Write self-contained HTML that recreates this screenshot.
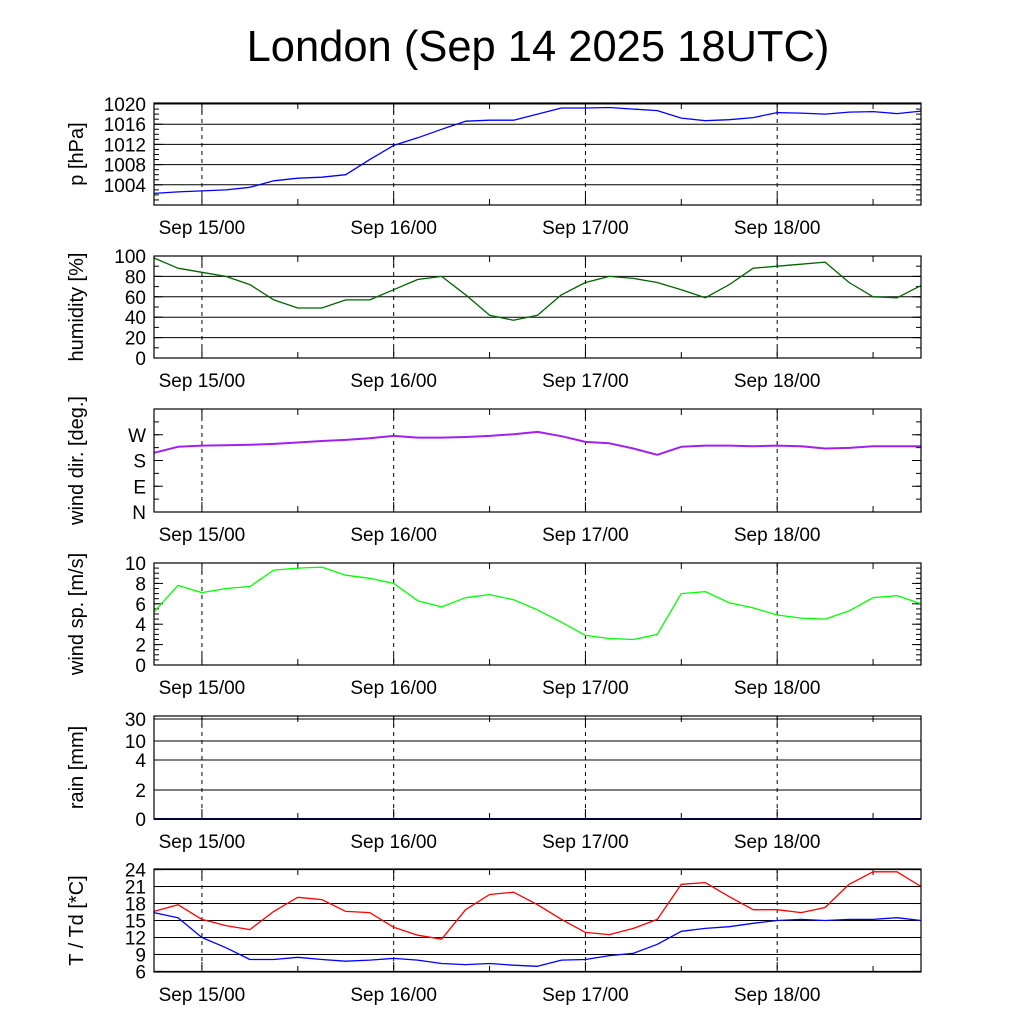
<!DOCTYPE html>
<html><head><meta charset="utf-8"><style>
body{margin:0;background:#fff}
svg{display:block;font-family:"Liberation Sans",sans-serif}
</style></head><body>
<svg id="c" width="1024" height="1024" viewBox="0 0 1024 1024">
<text x="538" y="61" font-size="43.5" text-anchor="middle">London (Sep 14 2025 18UTC)</text>
</svg>
<script>
// hours since Sep 14 18UTC, 3-hourly
const hours = Array.from({length:33},(_, i)=>i*3);
const dayLabels = ["Sep 15/00","Sep 16/00","Sep 17/00","Sep 18/00"];
const dayHours = [6,30,54,78];
const pressure = [1002.3,1002.6,1002.8,1003.0,1003.5,1004.8,1005.3,1005.5,1006.0,1009.0,1011.8,1013.3,1015.0,1016.6,1016.8,1016.8,1018.0,1019.2,1019.2,1019.3,1019.0,1018.7,1017.2,1016.7,1016.9,1017.3,1018.3,1018.2,1018.0,1018.4,1018.5,1018.1,1018.6];
const humidity = [98,88,84,80,72,57,49,49,57,57,67,77,80,62,42,37,42,62,74,80,78,74,67,59,72,88,90,92,94,74,60,59,71];
const windDir = [207,228,232,233,235,238,243,248,252,258,266,260,260,262,266,272,280,265,245,240,222,200,228,232,232,230,232,230,222,224,230,230,230];
const windSpeed = [5.2,7.8,7.1,7.5,7.7,9.3,9.5,9.6,8.8,8.5,8.0,6.3,5.7,6.6,6.9,6.4,5.4,4.2,2.9,2.6,2.5,3.0,7.0,7.2,6.1,5.6,4.9,4.6,4.5,5.3,6.6,6.8,6.0];
const rain = hours.map(()=>0);
const temp = [16.6,17.8,15.2,14.1,13.4,16.6,19.1,18.7,16.6,16.4,13.8,12.4,11.7,16.9,19.6,20.0,17.8,15.2,12.9,12.5,13.6,15.2,21.4,21.7,19.2,16.9,16.9,16.4,17.3,21.4,23.6,23.6,21.0];
const dew = [16.4,15.5,12.0,10.2,8.1,8.1,8.5,8.1,7.8,8.0,8.3,8.0,7.4,7.2,7.4,7.1,6.9,8.0,8.1,8.8,9.2,10.8,13.1,13.6,13.9,14.5,15.0,15.2,15.0,15.2,15.2,15.5,15.0];
const pTicks=[1004,1008,1012,1016,1020], hTicks=[0,20,40,60,80,100];
const dirTicks=[0,90,180,270], dirLabels=["N","E","S","W"];
const wsTicks=[0,2,4,6,8,10], rainTicks=[0,2,4,10,30], tTicks=[6,9,12,15,18,21,24];

const svg=document.getElementById('c');
const NS='http://www.w3.org/2000/svg';
const X0=154,X1=921,H0=0,H1=96;
const xs=h=>X0+(h-H0)/(H1-H0)*(X1-X0);
function mk(tag,attrs,parent){const e=document.createElementNS(NS,tag);for(const k in attrs)e.setAttribute(k,attrs[k]);(parent||svg).appendChild(e);return e;}

function panel(name,top,bot,ys,ticks,labels,grid,minorStep,minorRange,title,series){
  const g=mk('g',{});
  
  
  if(grid) ticks.forEach(t=>{const y=ys(t);const l=mk('line',{x1:X0,x2:X1,y1:y,y2:y,stroke:'#000','stroke-width':1},g);
    });
  dayHours.forEach((h,i)=>{const x=xs(h);const l=mk('line',{x1:x,x2:x,y1:top,y2:bot,stroke:'#000','stroke-width':1,'stroke-dasharray':'4,4'},g);
    
    const t=mk('text',{x:x,y:bot+29,'font-size':19,'text-anchor':'middle'},g);t.textContent=dayLabels[i];
    
    mk('line',{x1:x,x2:x,y1:bot,y2:bot-10,stroke:'#000'},g);mk('line',{x1:x,x2:x,y1:top,y2:top+10,stroke:'#000'},g);
    const xm=xs(h+12); if(xm<X1){mk('line',{x1:xm,x2:xm,y1:bot,y2:bot-6,stroke:'#000'},g);mk('line',{x1:xm,x2:xm,y1:top,y2:top+6,stroke:'#000'},g);}
  });
  if(minorStep) for(let v=minorRange[0];v<=minorRange[1]+1e-9;v+=minorStep){const y=ys(v);
    mk('line',{x1:X0,x2:X0+5,y1:y,y2:y,stroke:'#000'},g);mk('line',{x1:X1,x2:X1-5,y1:y,y2:y,stroke:'#000'},g);}
  ticks.forEach((t,i)=>{const y=ys(t);
    mk('line',{x1:X0,x2:X0+9,y1:y,y2:y,stroke:'#000'},g);mk('line',{x1:X1,x2:X1-9,y1:y,y2:y,stroke:'#000'},g);
    const tx=mk('text',{x:X0-8,y:y+7,'font-size':19,'text-anchor':'end'},g);tx.textContent=labels?labels[i]:t;
    });
  series.forEach(s=>{const pts=hours.map((h,i)=>xs(h).toFixed(1)+','+ys(s.data[i]).toFixed(1)).join(' ');
    const p=mk('polyline',{points:pts,fill:'none',stroke:s.color,'stroke-width':s.w||1.3,'stroke-linejoin':'round'},g);
    });
  mk('rect',{x:X0,y:top,width:X1-X0,height:bot-top,fill:'none',stroke:'#000','stroke-width':1.2},g);
  const cy=(top+bot)/2;
  const tt=mk('text',{x:0,y:0,'font-size':20,'text-anchor':'middle',transform:`translate(83,${cy}) rotate(-90)`},g);
  tt.textContent=title;
}
const lin=(top,bot,v0,v1)=>v=>bot-(v-v0)/(v1-v0)*(bot-top);
panel('pressure',103,205,lin(103,205,1000,1020.2),pTicks,null,true,1,[1000,1020],'p [hPa]',[{data:pressure,color:'#0000ff',name:'pressure-line'}]);
panel('humidity',256,358,lin(256,358,0,100),hTicks,null,true,10,[0,100],'humidity [%]',[{data:humidity,color:'#006400',name:'humidity-line'}]);
panel('wind-dir',409,512,lin(409,512,0,360),dirTicks,dirLabels,false,45,[0,360],'wind dir. [deg.]',[{data:windDir,color:'#a020f0',name:'wind-dir-line',w:2}]);
panel('wind-speed',563,665,lin(563,665,0,10),wsTicks,null,false,0.5,[0,10],'wind sp. [m/s]',[{data:windSpeed,color:'#00ff00',name:'wind-speed-line'}]);
const rainV=[0,2,4,10,30],rainP=[819,790,760,741,719];
const rainY=v=>{for(let i=1;i<rainV.length;i++)if(v<=rainV[i])return rainP[i-1]+(v-rainV[i-1])/(rainV[i]-rainV[i-1])*(rainP[i]-rainP[i-1]);return 716;};
panel('rain',716,819,rainY,rainTicks,null,true,0,null,'rain [mm]',[{data:rain,color:'#00008b',name:'rain-line',w:2}]);
panel('temperature',869,972,lin(869,972,5.9,24.1),tTicks,null,true,0,null,'T / Td [*C]',[{data:temp,color:'#ff0000',name:'temperature-line'},{data:dew,color:'#0000ff',name:'dewpoint-line'}]);
</script>
</body></html>
